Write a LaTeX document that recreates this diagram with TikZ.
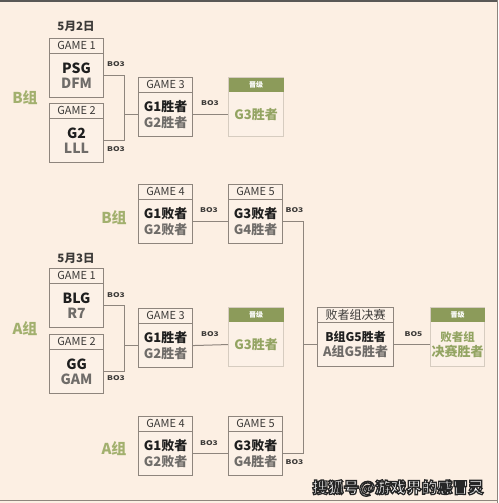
\documentclass[tikz,border=0pt]{standalone}
\usepackage{fontspec}
\setmainfont{Noto Sans CJK SC}
\definecolor{bgc}{HTML}{FCEFE3}
\definecolor{boxc}{HTML}{FCF1E7}
\definecolor{linec}{HTML}{8E857D}
\definecolor{hdrc}{HTML}{3C3A38}
\definecolor{tone}{HTML}{1E1E1E}
\definecolor{ttwo}{HTML}{6F6C69}
\definecolor{qgreen}{HTML}{8C9B5A}
\definecolor{qtext}{HTML}{93A462}
\definecolor{glab}{HTML}{A2B06E}
\definecolor{qborder}{HTML}{D6CCC0}
\tikzset{
  boxst/.style={draw=linec, line width=1.1pt, fill=boxc, minimum height=59pt, inner sep=0pt, anchor=north west},
  hline/.style={draw=linec, line width=0.9pt},
  hdrst/.style={font=\fontsize{11}{12}\selectfont, text=hdrc, inner sep=0pt},
  bodyst/.style={align=center, inner sep=0pt, font=\fontsize{13}{15.5}\selectfont\bfseries},
  qhdr/.style={font=\fontsize{7}{8}\selectfont\bfseries, text=white, inner sep=0pt},
  qbody/.style={align=center, inner sep=0pt, text=qtext, font=\fontsize{13}{15.5}\selectfont\bfseries},
  conn/.style={draw=linec, line width=1pt},
  bost/.style={font=\fontsize{6.5}{7}\selectfont\bfseries, text=hdrc, inner sep=0pt},
  grp/.style={font=\fontsize{15}{17}\selectfont\bfseries, text=glab, inner sep=0pt},
  datest/.style={font=\fontsize{11.5}{13}\selectfont\bfseries, text=hdrc, inner sep=0pt},
  wmk/.style={font=\fontsize{15.5}{17}\selectfont\bfseries, inner sep=0pt}
}
\newcommand{\gbox}[6]{%
  \node[boxst, minimum width=#4pt] (#1) at (#2,#3) {};
  \draw[hline] ([yshift=-15pt]#1.north west) -- ([yshift=-15pt]#1.north east);
  \node[hdrst] (#1h) at ([yshift=-7.5pt]#1.north) {#5};
  \node[bodyst] (#1b) at ([yshift=-7.5pt]#1.center) {#6};
  \coordinate (#1e) at ([yshift=-7.5pt]#1.east);
  \coordinate (#1w) at ([yshift=-7.5pt]#1.west);
}
\newcommand{\qbox}[5]{%
  \node[boxst, draw=qborder, minimum width=#4pt] (#1) at (#2,#3) {};
  \fill[qgreen] ([shift={(0.55pt,-0.55pt)}]#1.north west) rectangle ([shift={(-0.55pt,-15pt)}]#1.north east);
  \node[qhdr] (#1h) at ([yshift=-7.5pt]#1.north) {晋级};
  \node[qbody] (#1b) at ([yshift=-7.5pt]#1.center) {#5};
  \coordinate (#1w) at ([yshift=-7.5pt]#1.west);
}
\newcommand{\tm}[2]{\textcolor{tone}{#1}\\\textcolor{ttwo}{#2}}
\newcommand{\lat}[2]{\textcolor{tone}{\fontsize{14}{15.5}\selectfont #1}\\\textcolor{ttwo}{\fontsize{14}{15.5}\selectfont #2}}
\newcommand{\bolab}[1]{\scalebox{1.3}[1]{#1}}
\begin{document}
\begin{tikzpicture}[x=1pt,y=-1pt]
\fill[bgc] (0,0) rectangle (498,503);
\useasboundingbox (0,0) rectangle (498,503);
% frame
\draw[draw=hdrc!85, line width=1.6pt] (0,0.8) -- (498,0.8);
\draw[draw=linec, line width=1pt] (497.5,0) -- (497.5,503);
\draw[draw=linec, line width=1pt] (0,500.5) -- (498,500.5);

% ---- B group
\node[datest] (d1) at (76,26.5) {5月2日};
\node[grp] (lb1) at (25,98) {B组};
\gbox{bga}{49}{38}{54}{GAME 1}{\lat{PSG}{DFM}}
\gbox{bgb}{49}{103}{54}{GAME 2}{\lat{G2}{LLL}}
\gbox{bgc}{138}{77}{54}{GAME 3}{\tm{G1胜者}{G2胜者}}
\qbox{bq}{228}{77}{55}{G3胜者}
\node[grp] (lb2) at (114,218) {B组};
\gbox{bgd}{138}{184}{54}{GAME 4}{\tm{G1败者}{G2败者}}
\gbox{bge}{228}{184}{54}{GAME 5}{\tm{G3败者}{G4胜者}}

% ---- A group
\node[datest] (d2) at (76,258) {5月3日};
\node[grp] (la1) at (25,329) {A组};
\gbox{aga}{49}{268}{54}{GAME 1}{\lat{BLG}{R7}}
\gbox{agb}{49}{334}{54}{GAME 2}{\lat{GG}{GAM}}
\gbox{agc}{138}{308}{54}{GAME 3}{\tm{G1胜者}{G2胜者}}
\qbox{aq}{228}{307}{55}{G3胜者}
\node[grp] (la2) at (114,449) {A组};
\gbox{agd}{138}{416}{54}{GAME 4}{\tm{G1败者}{G2败者}}
\gbox{age}{228}{416}{54}{GAME 5}{\tm{G3败者}{G4胜者}}

% ---- final
\gbox{lf}{317}{307}{76}{\fontsize{12}{14}\selectfont 败者组决赛}{\fontsize{12}{15}\selectfont\tm{B组G5胜者}{A组G5胜者}}
\qbox{lq}{430}{307}{54}{\fontsize{11.5}{14.5}\selectfont 败者组\\决赛胜者}

% ---- connectors
\draw[conn] (bgae) -- ++(20,0) coordinate (bj) |- (bgbe);
\draw[conn] (bj |- bgcw) -- (bgcw);
\draw[conn] (bgce) -- (bqw);
\draw[conn] (bgde) -- (bgew);
\draw[conn] (agae) -- ++(20,0) coordinate (aj) |- (agbe);
\draw[conn] (aj |- agcw) -- (agcw);
\draw[conn] (agce) -- (aqw);
\draw[conn] (agde) -- (agew);
\draw[conn] (bgee) -- ++(20,0) coordinate (vj) |- (agee);
\draw[conn] (vj |- lfw) -- (lfw);
\draw[conn] (lfe) -- (lqw);

% ---- BO labels
\node[bost] (bo1) at (116,64.5) {\bolab{BO3}};
\node[bost] (bo2) at (116,149) {\bolab{BO3}};
\node[bost] (bo3) at (210,103) {\bolab{BO3}};
\node[bost] (bo4) at (209,210) {\bolab{BO3}};
\node[bost] (bo5) at (294.5,210) {\bolab{BO3}};
\node[bost] (bo6) at (116,295.5) {\bolab{BO3}};
\node[bost] (bo7) at (116,378.5) {\bolab{BO3}};
\node[bost] (bo8) at (210,334.5) {\bolab{BO3}};
\node[bost] (bo9) at (209,443.5) {\bolab{BO3}};
\node[bost] (bo10) at (294.5,462.5) {\bolab{BO3}};
\node[bost] (bo11) at (413.5,334.5) {\bolab{BO5}};

% ---- watermark (white text, dark outline via text render mode)
\node[wmk, text=white] (wm) at (398,488) {\special{pdf:literal direct 0.15 0.15 0.15 RG 1.3 w 2 Tr}搜狐号@游戏界的感冒灵\special{pdf:literal direct 0 Tr}};
\end{tikzpicture}
\end{document}
